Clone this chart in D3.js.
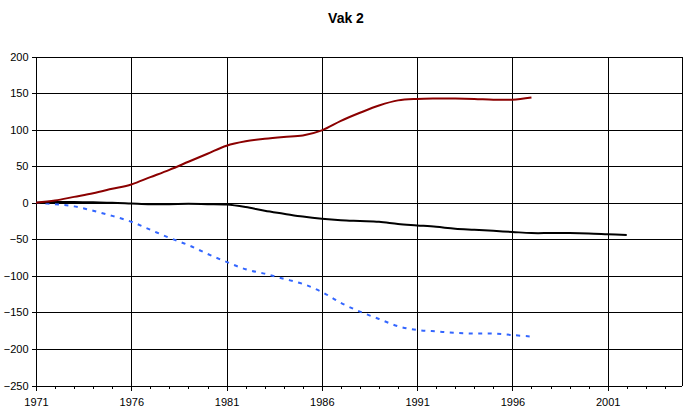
<!DOCTYPE html>
<html lang="en">
<head>
<meta charset="UTF-8">
<title>Vak 2</title>
<script src="https://d3js.org/d3.v7.min.js"></script>
<style>
  body { margin: 0; background: #fff; }
  svg { display: block; font-family: "Liberation Sans", Arial, sans-serif; }
  .tick text { font-size: 11px; fill: #000; }
  .domain { display: none; }
</style>
</head>
<body>
<svg width="684" height="407"></svg>
<script>
// data
var redYears = d3.range(1971, 1998);
var redValues = [0, 3, 8, 13, 19, 25, 35, 45, 56, 67, 78, 84, 87.5, 90, 92, 99, 112, 123, 133, 140, 142, 142.5, 142.5, 142, 141, 141, 144];
var blackYears = d3.range(1971, 2003);
var blackValues = [0, 1, 1, 0.5, 0, -1, -2, -2, -1.5, -2, -2.5, -6, -11, -15, -19, -22, -24, -25, -26, -29, -31, -33, -35.5, -37, -38.5, -40, -41.5, -41.5, -41.5, -42, -43, -44];
var blueYears = d3.range(1971, 1998);
var blueValues = [0, -2, -5, -11, -18, -26, -37, -48, -58, -70, -81, -91, -97, -104, -111, -122, -137, -149, -159, -169, -174, -176, -178, -179, -179, -181, -183];
var yTicks = [-250, -200, -150, -100, -50, 0, 50, 100, 150, 200];
var xTicks = [1971, 1976, 1981, 1986, 1991, 1996, 2001];

var svg = d3.select("svg");
var plotLeft = 36, plotRight = 682, plotTop = 56.5, plotBottom = 385.5;

var x = d3.scaleLinear().domain([1971, 2004.9]).range([plotLeft, plotRight]);
var y = d3.scaleLinear().domain([-250, 200]).range([plotBottom, plotTop]);

svg.append("text").attr("x", 346).attr("y", 23).attr("text-anchor", "middle")
  .style("font-size", "14px").style("font-weight", "bold").text("Vak 2");

var grid = svg.append("g").attr("shape-rendering", "crispEdges").attr("stroke", "#000").attr("stroke-width", 1);
grid.selectAll(".h").data(yTicks).enter().append("line")
  .attr("x1", plotLeft).attr("x2", plotRight)
  .attr("y1", d => Math.round(y(d)) + 0.5).attr("y2", d => Math.round(y(d)) + 0.5);
grid.selectAll(".v").data(xTicks.concat([2004.9])).enter().append("line")
  .attr("y1", plotTop).attr("y2", plotBottom)
  .attr("x1", d => Math.round(x(d)) + 0.5).attr("x2", d => Math.round(x(d)) + 0.5);

// y axis
var yAxis = d3.axisLeft(y).tickValues(yTicks).tickSize(5).tickPadding(3);
svg.append("g").attr("transform", "translate(" + (plotLeft + 0.5) + ",0)").call(yAxis)
  .call(g => g.selectAll(".tick line").attr("stroke", "#000").attr("shape-rendering", "crispEdges"));

// x axis: minor yearly ticks + labeled major ticks
var xMinor = d3.axisBottom(x).tickValues(d3.range(1971, 2005)).tickSize(3).tickFormat("");
svg.append("g").attr("transform", "translate(0," + plotBottom + ")").call(xMinor)
  .call(g => g.selectAll(".tick line").attr("stroke", "#000").attr("shape-rendering", "crispEdges"));
var xAxis = d3.axisBottom(x).tickValues(xTicks).tickSize(5).tickPadding(8).tickFormat(d3.format("d"));
svg.append("g").attr("transform", "translate(0," + plotBottom + ")").call(xAxis)
  .call(g => g.selectAll(".tick line").attr("stroke", "#000").attr("shape-rendering", "crispEdges"));

var line = d3.line().x(d => x(d[0])).y(d => y(d[1])).curve(d3.curveCatmullRom.alpha(0.5));

svg.append("path").datum(d3.zip(blueYears, blueValues)).attr("d", line)
  .attr("fill", "none").attr("stroke", "#3366ff").attr("stroke-width", 2).attr("stroke-dasharray", "4,5.5");
svg.append("path").datum(d3.zip(blackYears, blackValues)).attr("d", line)
  .attr("fill", "none").attr("stroke", "#000").attr("stroke-width", 2);
svg.append("path").datum(d3.zip(redYears, redValues)).attr("d", line)
  .attr("fill", "none").attr("stroke", "#8b0000").attr("stroke-width", 2);
</script>
</body>
</html>
